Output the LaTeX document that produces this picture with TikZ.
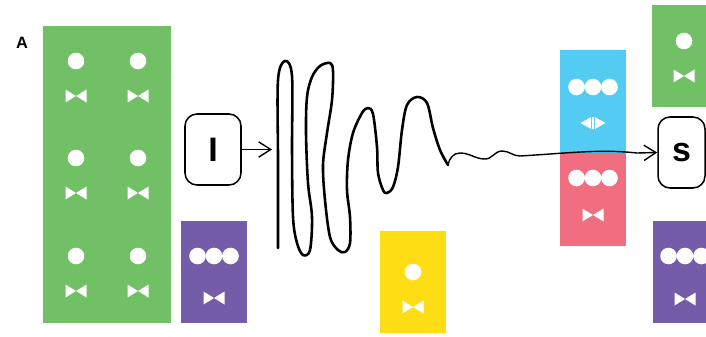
\documentclass[tikz,border=0pt]{standalone}
\usepackage{fontspec}
\newfontfamily\arialfont{Liberation Sans}
\usetikzlibrary{arrows.meta}
\definecolor{cellgreen}{RGB}{113,192,102}
\definecolor{cellpurple}{RGB}{116,92,168}
\definecolor{cellblue}{RGB}{83,203,243}
\definecolor{cellpink}{RGB}{240,110,128}
\definecolor{cellyellow}{RGB}{255,221,21}

\begin{document}
\begin{tikzpicture}[x=.3mm,y=-.3mm,
  opbox/.style={draw=black,line width=1.3pt,rounded corners=3.6mm,fill=white,inner sep=0pt,
    minimum height=21.3mm,font=\arialfont\bfseries\fontsize{29}{29}\selectfont},
  flow/.style={line width=1.2pt,-{Straight Barb[length=3.6mm,width=4.6mm]}},
  bow/.pic={\fill[white] (-10.5,-6.5) -- (0,0) -- (-10.5,6.5) -- cycle (10.5,-6.5) -- (0,0) -- (10.5,6.5) -- cycle;},
  onedot/.pic={\fill[white] (0,0) circle[radius=8.3];},
  threedots/.pic={\fill[white] (-16.5,0) circle[radius=8.3] (0,0) circle[radius=8.3] (16.5,0) circle[radius=8.3];},
  swap/.pic={\fill[white] (-12.5,0) -- (-1.8,-6) -- (-1.8,6) -- cycle (12.5,0) -- (1.8,-6) -- (1.8,6) -- cycle (-.9,-6) rectangle (.9,6);}]
\useasboundingbox (0,0) rectangle (706,336);
\node[font=\arialfont\bfseries\fontsize{14}{14}\selectfont] (lblA) at (22,43) {A};
% big green block, two columns
\fill[cellgreen] (43,26) rectangle (107,323);
\fill[cellgreen] (107,26) rectangle (171,323);
\pic at (76,61) {onedot};
\pic at (76,96) {bow};
\pic at (138,61) {onedot};
\pic at (138,96) {bow};
\pic at (76,158) {onedot};
\pic at (76,193) {bow};
\pic at (138,158) {onedot};
\pic at (138,193) {bow};
\pic at (76,256) {onedot};
\pic at (76,291) {bow};
\pic at (138,256) {onedot};
\pic at (138,291) {bow};
% purple, left
\fill[cellpurple] (181,221) rectangle (247,323);
\pic at (214,256) {threedots};
\pic at (214,298) {bow};
% yellow
\fill[cellyellow] (380,231) rectangle (446,333);
\pic at (413,272) {onedot};
\pic at (413,307) {bow};
% blue and pink
\fill[cellblue] (560,50) rectangle (626,153);
\pic at (593,87) {threedots};
\pic at (593,123) {swap};
\fill[cellpink] (560,153) rectangle (626,246);
\pic at (593,178) {threedots};
\pic at (593,215) {bow};
% right side
\fill[cellgreen] (652,5) rectangle (710,107);
\pic at (684,41) {onedot};
\pic at (684,76) {bow};
\fill[cellpurple] (653,221) rectangle (710,323);
\pic at (685,256) {threedots};
\pic at (685,299) {bow};
% operators
\node[opbox,minimum width=16.8mm] (nI) at (213,149.5) {I};
\node[opbox,minimum width=14.1mm] (nS) at (681.5,152.5) {s};
\coordinate (waveIn) at (272,149.5);
\draw[flow] (nI.east) -- (waveIn);
\draw[line width=2.2pt,line cap=round,line join=round] plot[smooth,tension=.55] coordinates {
  (278,248) (278,160) (278,80) (285,61) (292,76) (292,150) (293,217) (297,243) (303,255)
  (310,250) (312,217) (308,183) (306,133) (307,97) (312,77) (320,66) (330,63) (333,71)
  (332,100) (327,133) (323,165) (325,200) (330,237) (338,250) (345,252) (350,243)
  (350,217) (347,190) (348,160) (353,133) (362,113) (368,108) (373,114) (377,147)
  (378,173) (383,190) (387,193) (393,187) (398,167) (402,130) (407,105) (417,97)
  (427,103) (433,128) (440,150) (448,165)};
\coordinate (waveOut) at (448,165);
\draw[flow] (waveOut) to[out=80,in=180] (460,153) to[out=0,in=180] (485,159)
  to[out=0,in=180] (502,151) to[out=0,in=180] (520,156) .. controls (570,153) and (600,149) .. (637,153) -- (nS.west);
\end{tikzpicture}
\end{document}
